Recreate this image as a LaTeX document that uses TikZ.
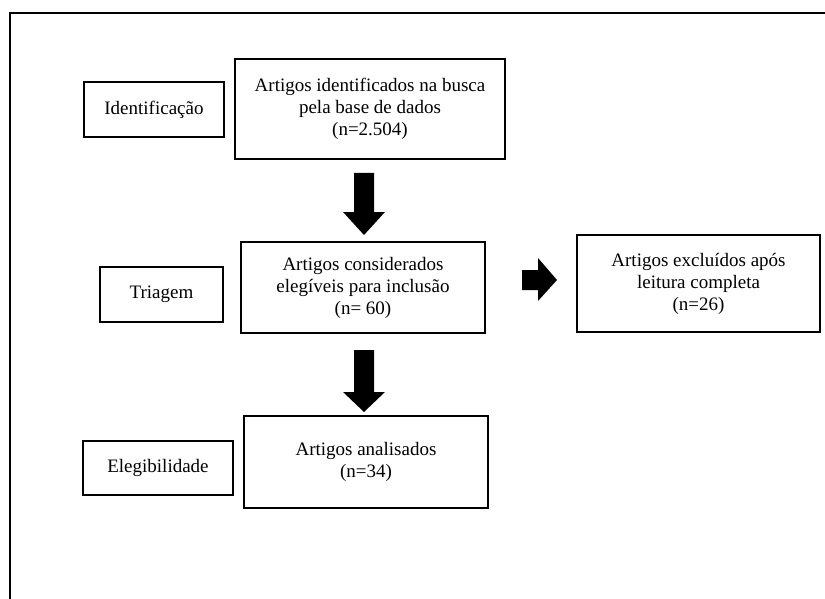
\documentclass[tikz,border=0pt]{standalone}
\usepackage{fontspec}
\setmainfont{Liberation Serif}
\begin{document}
\begin{tikzpicture}[x=1pt,y=-1pt,
  box/.style={draw=black, line width=1.1pt, align=center, inner sep=0pt,
    font=\fontsize{19}{22}\selectfont},
  blockarrow/.style={fill=black}]
\useasboundingbox (0,0) rectangle (825,599);
\draw[line width=1.6pt] (10,599) -- (10,13) -- (825,13);
\node[box, minimum width=140pt, minimum height=55pt] (ident) at (154,109.5) {Identificação};
\node[box, minimum width=270pt, minimum height=100pt] (b1) at (370,109) {Artigos identificados na busca\\pela base de dados\\(n=2.504)};
\node[box, minimum width=123pt, minimum height=55pt] (triagem) at (161.5,294.5) {Triagem};
\node[box, minimum width=244pt, minimum height=91pt] (b2) at (363,287.5) {Artigos considerados\\elegíveis para inclusão\\(n= 60)};
\node[box, minimum width=243pt, minimum height=97pt] (b3) at (698.5,283.5) {Artigos excluídos após\\leitura completa\\(n=26)};
\node[box, minimum width=150pt, minimum height=54pt] (eleg) at (158,468) {Elegibilidade};
\node[box, minimum width=244pt, minimum height=92pt] (b4) at (366,462) {Artigos analisados\\(n=34)};
% block arrows
\coordinate (a1s) at (364,173);
\coordinate (a1e) at (364,235);
\fill[blockarrow] (a1s) ++(-10,0) -- ++(20,0) -- ++(0,39) -- ++(11,0) -- (a1e) -- ++(-21,-23) -- ++(11,0) -- cycle;
\coordinate (a2s) at (364,350);
\coordinate (a2e) at (364,412);
\fill[blockarrow] (a2s) ++(-10,0) -- ++(20,0) -- ++(0,42) -- ++(11,0) -- (a2e) -- ++(-21,-20) -- ++(11,0) -- cycle;
\coordinate (a3s) at (522,280);
\coordinate (a3e) at (557,280);
\fill[blockarrow] (a3s) ++(0,-10) -- ++(16,0) -- ++(0,-12) -- (a3e) -- ++(-19,21) -- ++(0,-11) -- ++(-16,0) -- cycle;
\end{tikzpicture}
\end{document}
